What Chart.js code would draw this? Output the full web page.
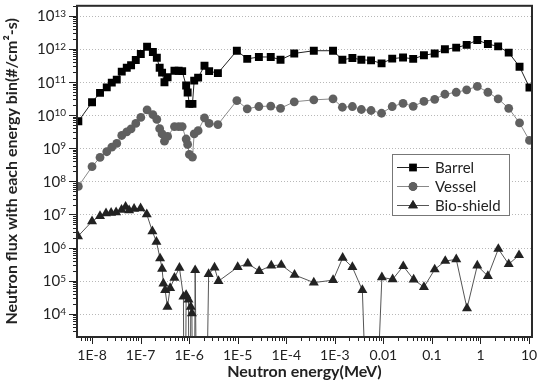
<!DOCTYPE html>
<html>
<head>
<meta charset="utf-8">
<script src="https://cdn.jsdelivr.net/npm/chart.js@4.4.1/dist/chart.umd.min.js"></script>
<style>
  html, body { margin: 0; padding: 0; background: #fff; }
</style>
</head>
<body>
<canvas id="chart" width="538" height="392"></canvas>
<script>
// energy bins (MeV) shared by the barrel and vessel tallies
const energies = [5.22e-9, 1.0e-8, 1.46e-8, 2.01e-8, 2.55e-8, 3.23e-8, 4.09e-8, 5.19e-8, 6.37e-8, 7.96e-8,
  1.01e-7, 1.36e-7, 1.79e-7, 2.16e-7, 2.47e-7, 2.77e-7, 3.1e-7, 3.6e-7, 4.98e-7, 6.08e-7, 7.18e-7, 8.67e-7,
  9.31e-7, 1.01e-6, 1.17e-6, 1.27e-6, 1.53e-6, 2.07e-6, 2.58e-6, 3.91e-6, 9.6e-6, 1.57e-5, 2.73e-5, 4.79e-5,
  7.62e-5, 1.46e-4, 3.69e-4, 9.18e-4, 1.43e-3, 2.3e-3, 3.52e-3, 5.57e-3, 9.18e-3, 1.52e-2, 2.54e-2, 4.11e-2,
  6.84e-2, 0.114, 0.185, 0.316, 0.519, 0.859, 1.42, 2.31, 3.81, 6.37, 10.2];

const barrelFlux = [6.5e9, 2.45e10, 4.7e10, 6.9e10, 9.6e10, 1.18e11, 2.06e11, 2.7e11, 3.2e11, 4.6e11,
  7.0e11, 1.16e12, 8.1e11, 5.4e11, 2.7e11, 1.92e11, 9.8e10, 1.39e11, 2.2e11, 2.2e11, 2.13e11, 7.8e10,
  4.8e10, 2.19e10, 2.19e10, 1.1e11, 1.36e11, 3.1e11, 2.13e11, 1.85e11, 8.8e11, 5.0e11, 5.7e11, 5.7e11,
  4.7e11, 7.3e11, 8.8e11, 8.8e11, 4.7e11, 5.3e11, 4.7e11, 4.5e11, 3.66e11, 5.07e11, 5.5e11, 5.0e11,
  6.4e11, 7.3e11, 9.7e11, 1.09e12, 1.32e12, 1.85e12, 1.4e12, 1.19e12, 7.7e11, 2.9e11, 6.8e10];

const vesselFlux = [7.06e7, 2.77e8, 5.3e8, 7.85e8, 1.08e9, 1.4e9, 2.43e9, 3.14e9, 3.87e9, 5.6e9,
  8.5e9, 1.44e10, 1.04e10, 7.4e9, 3.9e9, 2.7e9, 1.64e9, 2.27e9, 4.5e9, 4.5e9, 4.5e9, 1.9e9,
  1.3e9, 6.5e8, 5.4e8, 2.7e9, 3.4e9, 8.2e9, 5.6e9, 5.2e9, 2.75e10, 1.55e10, 1.82e10, 1.88e10,
  1.61e10, 2.53e10, 2.89e10, 3.1e10, 1.73e10, 1.82e10, 1.48e10, 1.38e10, 1.14e10, 1.82e10, 2.28e10, 1.84e10,
  2.6e10, 3.0e10, 4.27e10, 4.9e10, 5.8e10, 7.4e10, 4.9e10, 3.1e10, 1.61e10, 5.8e9, 1.72e9];

// empty bins of the bio-shield tally, they fall far below the axis
const Z = 1e-3;

const bioEnergies = [5.14e-9, 1.0e-8, 1.46e-8, 1.94e-8, 2.47e-8, 3.13e-8, 4.05e-8, 4.91e-8, 5.8e-8, 7.35e-8,
  1.0e-7, 1.34e-7, 1.75e-7, 2.12e-7, 2.52e-7, 2.77e-7, 2.95e-7, 3.2e-7, 3.57e-7, 4.06e-7, 4.98e-7, 6.31e-7,
  7.62e-7, 8.07e-7, 8.67e-7, 9.68e-7, 1.02e-6, 1.08e-6, 1.14e-6, 1.24e-6, 1.33e-6, 1.53e-6, 2.07e-6, 2.52e-6,
  3.33e-6, 4.02e-6, 1.0e-5, 1.61e-5, 2.77e-5, 4.91e-5, 7.89e-5, 1.48e-4, 3.69e-4, 9.2e-4, 1.45e-3, 2.3e-3,
  3.69e-3, 5.57e-3, 9.31e-3, 1.55e-2, 2.57e-2, 4.2e-2, 6.84e-2, 0.114, 0.188, 0.317, 0.527, 0.859, 1.42,
  2.33, 3.81, 6.22];

const bioFlux = [2.2e6, 6.2e6, 9.0e6, 1.09e7, 1.12e7, 1.16e7, 1.39e7, 1.7e7, 1.34e7, 1.49e7,
  1.54e7, 1.01e7, 3.1e6, 1.49e6, 4.7e5, 2.28e5, 8.2e4, 5.2e4, 1.64e4, 6.0e4, 1.22e5, 2.45e5,
  3.3e4, Z, 3.7e4, 2.7e4, Z, 1.64e4, 1.04e4, Z, 2.08e5, Z, Z, 1.58e5,
  2.48e5, 9.7e4, 2.57e5, 3.3e5, 1.97e5, 2.85e5, 3.0e5, 1.5e5, 8.8e4, 1.04e5, 4.9e5, 2.57e5,
  5.2e4, Z, 1.26e5, 1.1e5, 2.75e5, 1.09e5, 6.4e4, 2.19e5, 3.95e5, 4.4e5, 1.47e4, 2.85e5, 1.38e5,
  9.1e5, 3.16e5, 5.9e5];

const xTickExps = [-8, -7, -6, -5, -4, -3, -2, -1, 0, 1];
const xTickLabels = ['1E-8', '1E-7', '1E-6', '1E-5', '1E-4', '1E-3', '0.01', '0.1', '1', '10'];
const yTickExps = [4, 5, 6, 7, 8, 9, 10, 11, 12, 13];

const FONT = 'Lato, "Open Sans", sans-serif';
const TEXT = '#222';

const toPoints = (xs, ys) => xs.map((x, i) => ({ x: x, y: ys[i] }));

// integer mantissa of a log tick (1..9), 0 if it is not one
const mantissa = (v) => {
    const m = v / Math.pow(10, Math.floor(Math.log10(v) + 1e-9));
    const r = Math.round(m);
    return Math.abs(m - r) < 1e-6 ? r : 0;
};

const legendItems = [
    { label: 'Barrel', style: 'rect', fill: '#000', line: '#222', r: 5.5 },
    { label: 'Vessel', style: 'circle', fill: '#606060', line: '#888', r: 4.3 },
    { label: 'Bio-shield', style: 'triangle', fill: '#222', line: '#555', r: 5.6 },
];

// dotted grid at each decade, drawn under the data
const dottedGrid = {
    id: 'dottedGrid',
    beforeDatasetsDraw(chart) {
        const { ctx, chartArea: a, scales: { y } } = chart;
        ctx.save();
        ctx.strokeStyle = '#b8b8b8';
        ctx.lineWidth = 1;
        ctx.setLineDash([1, 2]);
        ctx.beginPath();
        yTickExps.forEach((e) => {
            const py = Math.round(y.getPixelForValue(Math.pow(10, e))) + 0.5;
            ctx.moveTo(a.left, py);
            ctx.lineTo(a.right, py);
        });
        ctx.stroke();
        ctx.restore();
    },
};

// frame, tick marks, y labels with exponents and the legend box
const decor = {
    id: 'decor',
    afterDraw(chart) {
        const { ctx, chartArea: a, scales: { x, y } } = chart;
        ctx.save();

        // tick marks
        ctx.strokeStyle = '#222';
        ctx.lineWidth = 1;
        ctx.beginPath();
        x.ticks.forEach((t) => {
            const m = mantissa(t.value);
            if (!m) return;
            const px = Math.round(x.getPixelForValue(t.value)) + 0.5;
            if (px < a.left || px > a.right + 1) return;
            ctx.moveTo(px, a.bottom);
            ctx.lineTo(px, a.bottom + (m === 1 ? 7 : 4));
        });
        y.ticks.forEach((t) => {
            const m = mantissa(t.value);
            if (!m) return;
            const py = Math.round(y.getPixelForValue(t.value)) + 0.5;
            if (py < a.top - 1 || py > a.bottom) return;
            ctx.moveTo(a.left, py);
            ctx.lineTo(a.left - (m === 1 ? 8 : 4), py);
        });
        ctx.stroke();

        // frame
        ctx.lineWidth = 2;
        ctx.strokeStyle = '#2a2a2a';
        ctx.strokeRect(a.left, a.top, a.right - a.left, a.bottom - a.top);

        // y labels, 10 with exponent
        ctx.fillStyle = TEXT;
        const xEnd = 66;
        yTickExps.forEach((e) => {
            const py = y.getPixelForValue(Math.pow(10, e));
            ctx.font = '10px ' + FONT;
            const sup = String(e);
            const sw = ctx.measureText(sup).width;
            ctx.textAlign = 'left';
            ctx.textBaseline = 'alphabetic';
            ctx.fillText(sup, xEnd - sw, py + 1);
            ctx.font = '15px ' + FONT;
            ctx.textAlign = 'right';
            ctx.fillText('10', xEnd - sw, py + 5.5);
        });

        // legend
        const bx = 392.5, by = 154.5, bw = 117, bh = 61;
        ctx.fillStyle = '#fff';
        ctx.fillRect(bx, by, bw, bh);
        ctx.lineWidth = 1;
        ctx.strokeStyle = '#777';
        ctx.strokeRect(bx, by, bw, bh);
        legendItems.forEach((it, i) => {
            const ly = 167 + i * 19;
            ctx.strokeStyle = it.line;
            ctx.beginPath();
            ctx.moveTo(397, ly + 0.5);
            ctx.lineTo(429, ly + 0.5);
            ctx.stroke();
            Chart.helpers.drawPoint(ctx, {
                pointStyle: it.style, radius: it.r, rotation: 0, borderWidth: 0,
            }, 413, ly + 0.5);
            ctx.fillStyle = it.fill;
            ctx.fill();
            ctx.fillStyle = TEXT;
            ctx.font = '15px ' + FONT;
            ctx.textAlign = 'left';
            ctx.textBaseline = 'middle';
            ctx.fillText(it.label, 435, ly + 1);
        });

        ctx.restore();
    },
};

const ctx = document.getElementById('chart').getContext('2d');

new Chart(ctx, {
    type: 'line',
    data: {
        datasets: [
            {
                label: 'Barrel',
                data: toPoints(energies, barrelFlux),
                borderColor: '#222',
                borderWidth: 1,
                pointStyle: 'rect',
                pointRadius: 5.6,
                pointBackgroundColor: '#000',
                pointBorderWidth: 0,
            },
            {
                label: 'Vessel',
                data: toPoints(energies, vesselFlux),
                borderColor: '#8a8a8a',
                borderWidth: 1,
                pointStyle: 'circle',
                pointRadius: 4.4,
                pointBackgroundColor: '#606060',
                pointBorderWidth: 0,
            },
            {
                label: 'Bio-shield',
                data: toPoints(bioEnergies, bioFlux),
                borderColor: '#555',
                borderWidth: 1,
                pointStyle: 'triangle',
                pointRadius: 5.8,
                pointBackgroundColor: '#222',
                pointBorderWidth: 0,
            },
        ],
    },
    options: {
        responsive: false,
        animation: false,
        devicePixelRatio: 1,
        layout: { padding: { left: 0, right: 6, top: 5, bottom: 0 } },
        elements: { line: { tension: 0 } },
        plugins: {
            legend: { display: false },
            tooltip: { enabled: false },
        },
        scales: {
            x: {
                type: 'logarithmic',
                position: 'bottom',
                min: 4.9e-9,
                max: 11.5,
                grid: { display: false, drawTicks: false },
                border: { display: false },
                ticks: {
                    autoSkip: false,
                    maxRotation: 0,
                    minRotation: 0,
                    padding: 10,
                    color: TEXT,
                    font: { family: FONT, size: 14 },
                    callback: (value) => {
                        const e = Math.log10(value);
                        const i = xTickExps.indexOf(Math.round(e));
                        return Math.abs(e - Math.round(e)) < 1e-9 && i >= 0 ? xTickLabels[i] : '';
                    },
                },
                title: {
                    display: true,
                    text: 'Neutron energy(MeV)',
                    color: TEXT,
                    font: { family: FONT, size: 16, weight: 'bold' },
                    padding: { top: 0, bottom: 11 },
                },
                afterFit: (scale) => {
                    scale.height = 55;
                    scale.paddingLeft = 0;
                    scale.paddingRight = 0;
                },
            },
            y: {
                type: 'logarithmic',
                min: 2000,
                max: 2e13,
                ticks: { display: false },
                grid: { display: false },
                border: { display: false },
                title: {
                    display: true,
                    text: 'Neutron flux with each energy bin(#/cm²-s)',
                    color: TEXT,
                    font: { family: FONT, size: 16, weight: 'bold' },
                    padding: { top: 2, bottom: 0 },
                },
                afterFit: (scale) => {
                    scale.width = 77;
                    scale.paddingTop = 0;
                    scale.paddingBottom = 0;
                },
            },
        },
    },
    plugins: [dottedGrid, decor],
});
</script>
</body>
</html>
